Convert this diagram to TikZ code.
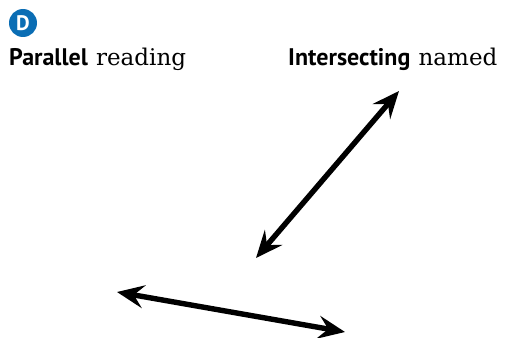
\documentclass[tikz,border=0pt]{standalone}
\usepackage{fontspec}
\setmainfont{DejaVu Serif}
\newfontfamily\headsans{PT Sans}
\usepackage{xcolor}
\usetikzlibrary{arrows.meta}
\definecolor{markblue}{HTML}{0A6DB4}

\tikzset{
  heading/.style={anchor=base west, inner sep=0pt, font=\fontsize{23}{26}\selectfont},
  lineseg/.style={line width=5.4pt, {Stealth[length=27pt,width=23pt,inset=10pt]}-{Stealth[length=27pt,width=23pt,inset=10pt]}}
}

\begin{document}
\begin{tikzpicture}[x=1pt,y=-1pt]
  \useasboundingbox (0,0) rectangle (510,337);
  \node (badge) [circle, fill=markblue, minimum size=28pt, inner sep=0pt, text=white,
    font=\headsans\bfseries\fontsize{21}{21}\selectfont] at (23,23) {D};
  \node (par) [heading] at (9,65) {{\headsans\bfseries\fontsize{24}{26}\selectfont Parallel}\hspace{1pt} reading};
  \node (int) [heading] at (288,65) {{\headsans\bfseries\fontsize{24}{26}\selectfont Intersecting}\hspace{1pt} named};
  \coordinate (a1) at (399,91);
  \coordinate (a2) at (256,258);
  \coordinate (b1) at (117,292);
  \coordinate (b2) at (345,332);
  \path[lineseg]
    (a1) edge (a2)
    (b1) edge (b2);
\end{tikzpicture}
\end{document}
